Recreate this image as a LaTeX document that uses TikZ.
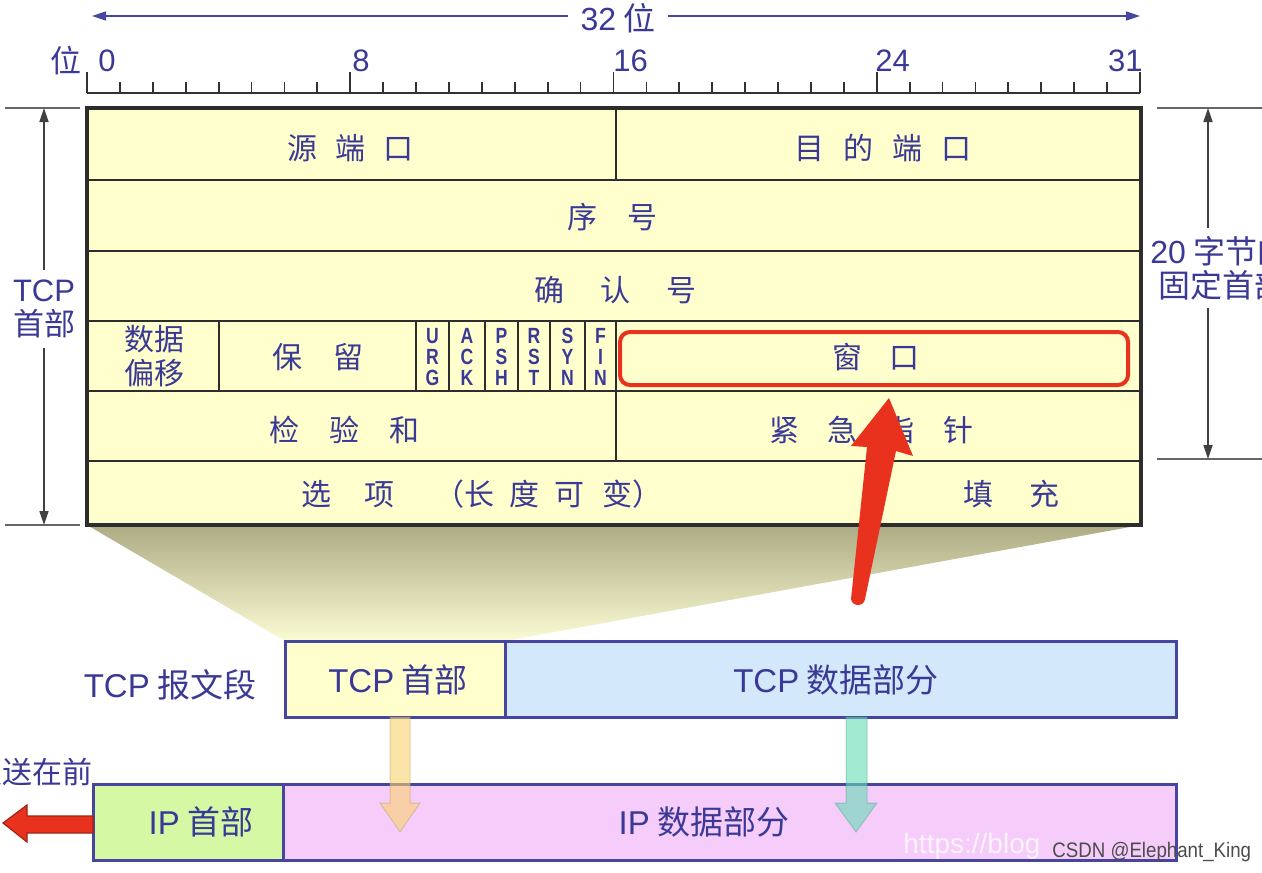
\documentclass[tikz,border=0pt]{standalone}
\usepackage{fontspec}
\setmainfont{Noto Sans CJK SC}
\newfontfamily\latf{Liberation Sans}
\newfontfamily\flagf{Liberation Sans Bold}[FakeStretch=0.8]
\usetikzlibrary{arrows.meta}
\definecolor{tblue}{RGB}{58,58,150}
\definecolor{arrblue}{RGB}{70,70,165}
\definecolor{cellfill}{RGB}{255,255,206}
\definecolor{gridc}{RGB}{45,45,45}
\definecolor{rulec}{RGB}{50,50,50}
\definecolor{boxblue}{RGB}{70,70,160}
\definecolor{datablue}{RGB}{212,232,252}
\definecolor{ipgreen}{RGB}{212,248,164}
\definecolor{ippink}{RGB}{246,204,250}
\definecolor{redc}{RGB}{232,50,30}
\definecolor{funtop}{RGB}{172,171,132}
\definecolor{funbot}{RGB}{252,252,212}
\definecolor{arrY}{RGB}{250,210,110}
\definecolor{arrT}{RGB}{100,220,180}
\newcommand\gp[1]{\hspace{#1pt}}
\begin{document}
\begin{tikzpicture}[x=0.5pt,y=-0.5pt,
  txt/.style={text=tblue, inner sep=0pt, font=\fontsize{15}{17}\selectfont},
  btxt/.style={text=tblue, inner sep=0pt, font=\fontsize{16.5}{19}\selectfont},
  num/.style={text=tblue, inner sep=0pt, font=\latf\fontsize{15.5}{17}\selectfont},
  flag/.style={text=tblue, inner sep=0pt, align=center, font=\flagf\fontsize{11}{10.5}\selectfont},
  grid/.style={draw=gridc, line width=1.2pt},
  sline/.style={draw=black!60, line width=0.8pt},
  sarrow/.style={draw=black!75, line width=0.8pt, -{Triangle[length=7pt,width=4.5pt]}},
  barrow/.style={draw=arrblue, line width=0.8pt, -{Triangle[length=7pt,width=4.5pt]}},
  pbox/.style={draw=boxblue, line width=1.5pt},
]
\useasboundingbox (0,0) rectangle (1262,872);
\clip (0,0) rectangle (1262,872);
\fill[white] (0,0) rectangle (1262,872);

% ---- 32 bit arrow ----
\coordinate (bl) at (92,16);
\coordinate (br) at (1140,16);
\node[text=tblue, inner ysep=0pt, inner xsep=6pt, font=\fontsize{16}{18}\selectfont] (bits) at (618,18) {{\latf 32} 位};
\draw[barrow] (bits.west |- bl) -- (bl);
\draw[barrow] (bits.east |- br) -- (br);

% ---- ruler ----
\draw[rulec, line width=0.9pt] (87,93) -- (1140,93);
\foreach \i in {0,...,32} \draw[rulec, line width=0.9pt] ({87+\i*32.906},93) -- ++(0,-11);
\foreach \i in {0,8,16,24,32} \draw[rulec, line width=0.9pt] ({87+\i*32.906},93) -- ++(0,-21);
\node[text=tblue, inner sep=0pt, font=\fontsize{15.5}{17}\selectfont] (wei) at (66,61) {位};
\node[num, anchor=west] (n0) at (98,61) {0};
\node[num, anchor=west] (n8) at (352,61) {8};
\node[num, anchor=west] (n16) at (613,61) {16};
\node[num, anchor=west] (n24) at (875,61) {24};
\node[num, anchor=east] (n31) at (1143,61) {31};

% ---- funnel ----
\shade[top color=funtop, bottom color=funbot] (87,525) -- (1141,525) -- (505,641) -- (285,641) -- cycle;

% ---- header table ----
\fill[cellfill] (87,108) rectangle (1141,525);
\foreach \y in {180,251,321,391,461} \draw[grid] (87,\y) -- (1141,\y);
\draw[grid] (616,108) -- (616,180);
\draw[grid] (616,321) -- (616,461);
\foreach \x in {219,416,449,485,518,550,585} \draw[grid] (\x,321) -- (\x,391);
\draw[gridc, line width=1.6pt] (87,108) rectangle (1141,525);

\node[txt] (srcport) at (350,148) {源\gp{9}端\gp{9}口};
\node[txt] (dstport) at (883,148) {目\gp{9.5}的\gp{9.5}端\gp{9.5}口};
\node[txt] (seq) at (612,217) {序\gp{15}号};
\node[txt] (ack) at (615,290) {确\gp{18}认\gp{18}号};
\node[txt, align=center, font=\fontsize{15}{17}\selectfont] (doff) at (154,356) {数据\\偏移};
\node[txt] (resv) at (318,357) {保\gp{15.5}留};
\node[flag] (urg) at (432.5,357) {U\\R\\G};
\node[flag] (fack) at (467,357) {A\\C\\K};
\node[flag] (psh) at (501.5,357) {P\\S\\H};
\node[flag] (rst) at (534,357) {R\\S\\T};
\node[flag] (syn) at (567.5,357) {S\\Y\\N};
\node[flag] (fin) at (600.5,357) {F\\I\\N};
\node[txt] (win) at (876,357) {窗\gp{13.5}口};
\node[txt] (csum) at (344,430) {检\gp{15}验\gp{15}和};
\node[txt] (urgp) at (871,430) {紧\gp{14}急\gp{14}指\gp{14}针};
\node[txt] (opts) at (482,494) {选\gp{16.5}项\gp{20}（长\gp{7.5}度\gp{7.5}可\gp{9}变）};
\node[txt] (pad) at (1011,494) {填\gp{18}充};

% ---- left dimension ----
\coordinate (lt) at (44,108);
\coordinate (lb) at (44,525);
\draw[sline] (5,108) -- (80,108);
\draw[sline] (5,525) -- (80,525);
\node[txt, align=center, inner ysep=5pt, font=\fontsize{15.5}{17}\selectfont] (tcph) at (44,309) {{\latf TCP}\\首部};
\draw[sarrow] (tcph.north) -- (lt);
\draw[sarrow] (tcph.south) -- (lb);

% ---- right dimension ----
\coordinate (rt) at (1208,108);
\coordinate (rb) at (1208,459);
\draw[sline] (1157,108) -- (1262,108);
\draw[sline] (1157,459) -- (1262,459);
\node[txt, align=left, anchor=west, inner ysep=4pt, font=\fontsize{16}{17}\selectfont] (fixh) at (1150,268) {{\latf 20} 字节的\\\hspace{4pt}固定首部};
\draw[sarrow] (fixh.north -| rt) -- (rt);
\draw[sarrow] (fixh.south -| rb) -- (rb);

% ---- TCP segment ----
\node[btxt] (seglbl) at (170,685) {{\latf TCP} 报文段};
\filldraw[pbox, fill=cellfill] (285,641) rectangle (505,717);
\filldraw[pbox, fill=datablue] (505,641) rectangle (1176,717);
\node[btxt] (tcphdr) at (398,680) {{\latf TCP} 首部};
\node[btxt] (tcpdata) at (836,680) {{\latf TCP} 数据部分};

% ---- IP datagram ----
\filldraw[pbox, fill=ipgreen] (93,784) rectangle (283,860);
\filldraw[pbox, fill=ippink] (283,784) rectangle (1176,860);
\node[btxt] (iphdr) at (201,822) {{\latf IP} 首部};
\node[btxt] (ipdata) at (704,822) {{\latf IP} 数据部分};
\node[txt, anchor=east, font=\fontsize{15}{17}\selectfont] (first) at (93,772) {发送在前};

% ---- down arrows ----
\filldraw[fill=arrY, fill opacity=0.6, draw=arrY!70!black, draw opacity=0.35, line width=0.5pt]
  (390,717) -- (410,717) -- (410,803) -- (420,803) -- (400,832) -- (380,803) -- (390,803) -- cycle;
\filldraw[fill=arrT, fill opacity=0.6, draw=arrT!70!black, draw opacity=0.35, line width=0.5pt]
  (846,717) -- (867,717) -- (867,803) -- (877,803) -- (856,832) -- (835,803) -- (846,803) -- cycle;

% ---- red left arrow ----
\filldraw[fill=redc, draw=redc!70!black, line width=0.6pt]
  (93,816) -- (27,816) -- (27,805) -- (3,823) -- (27,842) -- (27,833) -- (93,833) -- cycle;

% ---- highlight ----
\draw[redc, line width=2pt, rounded corners=5pt] (620,332) rectangle (1128,385);
\fill[redc] (867,447) -- (851,446) -- (889,398) -- (913,456) -- (896,451) -- (865,599)
  .. controls (864,607) and (852,607) .. (851,599) -- cycle;

% ---- watermark ----
\node[anchor=west, text=white, opacity=0.75, inner sep=0pt, font=\latf\fontsize{14}{16}\selectfont] (wm1) at (903,846) {https://blog};
\node[anchor=west, text=black!70, inner sep=0pt, font=\latf\fontsize{10.5}{12}\selectfont] (wm2) at (1052,852) {\scalebox{0.89}[1]{CSDN @Elephant\_King}};
\end{tikzpicture}
\end{document}
